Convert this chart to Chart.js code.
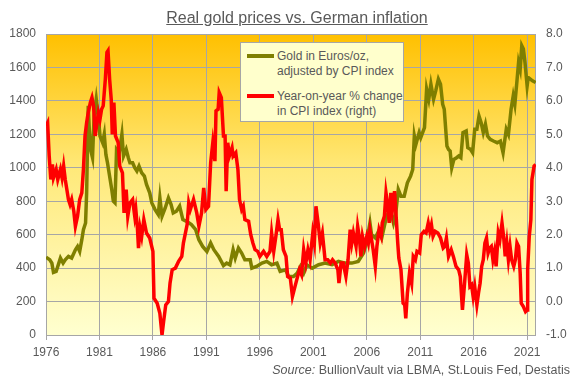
<!DOCTYPE html>
<html>
<head>
<meta charset="utf-8">
<script src="https://cdn.jsdelivr.net/npm/chart.js@4.4.1/dist/chart.umd.min.js"></script>
<style>
  body { margin: 0; background: #fff; font-family: "Liberation Sans", Arial, sans-serif; }
  #wrap { position: relative; width: 576px; height: 379px; overflow: hidden; }
  #chart { position: absolute; left: 0; top: 0; }
  #title { position: absolute; left: 0; width: 594px; top: 9px; text-align: center; font-size: 16px; color: #595959; }
  #title span { text-decoration: underline; }
  #legend { position: absolute; left: 240px; top: 42px; width: 164px; height: 80px; box-sizing: border-box;
            background: #FFFFCC; border: 1px solid #A6A6A6; font-size: 12px; color: #595959; line-height: 14.5px; }
  .leg-item { position: absolute; left: 36px; white-space: nowrap; }
  .leg-line { position: absolute; left: -30px; top: 5px; width: 27px; height: 4px; }
  #source { position: absolute; right: 6px; top: 363px; font-size: 12.5px; color: #595959; white-space: nowrap; }
</style>
</head>
<body>
<div id="wrap">
  <canvas id="chart" width="576" height="379"></canvas>
  <div id="title"><span>Real gold prices vs. German inflation</span></div>
  <div id="legend">
    <div class="leg-item" style="top:6px"><span class="leg-line" style="background:#7F7F00"></span>Gold in Euros/oz,<br>adjusted by CPI index</div>
    <div class="leg-item" style="top:46px"><span class="leg-line" style="background:#FF0000"></span>Year-on-year % change<br>in CPI index (right)</div>
  </div>
  <div id="source"><i>Source:</i> BullionVault via LBMA, St.Louis Fed, Destatis</div>
</div>
<script>
var xTicks = [1976, 1981, 1986, 1991, 1996, 2001, 2006, 2011, 2016, 2021];

var goldYears = [1976.0, 1976.35, 1976.55, 1976.7, 1976.95, 1977.2, 1977.35, 1977.6, 1977.8, 1978.1, 1978.4, 1978.75, 1978.95, 1979.15, 1979.35, 1979.5, 1979.7, 1979.8, 1979.95, 1980.05, 1980.2, 1980.35, 1980.5, 1980.7, 1980.85,
  1981.05, 1981.3, 1981.45, 1981.6, 1981.75, 1982.0, 1982.15, 1982.3, 1982.45, 1982.6, 1982.85, 1983.1, 1983.25, 1983.5, 1983.7, 1983.85, 1984.1, 1984.3, 1984.5, 1984.7, 1984.95,
  1985.2, 1985.4, 1985.7, 1985.9, 1986.2, 1986.5, 1986.65, 1986.85, 1987.15, 1987.45, 1987.7, 1987.9, 1988.2, 1988.5, 1988.8, 1989.15, 1989.6, 1990.0, 1990.3, 1990.65,
  1991.05, 1991.4, 1991.7, 1992.15, 1992.6, 1992.9, 1993.2, 1993.5, 1993.7, 1994.0, 1994.3, 1994.6, 1995.1, 1995.25, 1995.7, 1996.2, 1996.65, 1997.1, 1997.6, 1997.9,
  1998.4, 1998.7, 1999.15, 1999.5, 1999.8, 2000.1, 2000.4, 2000.9, 2001.5, 2002.1, 2002.75, 2003.35, 2004.0, 2004.6, 2005.2, 2005.7, 2006.0, 2006.3, 2006.45, 2006.8,
  2007.1, 2007.4, 2007.85, 2008.2, 2008.5, 2008.7, 2008.95, 2009.2, 2009.5, 2009.8, 2010.1, 2010.3, 2010.45, 2010.6, 2010.9, 2011.05, 2011.4, 2011.6, 2011.8, 2012.0,
  2012.25, 2012.45, 2012.7, 2012.9, 2013.1, 2013.25, 2013.5, 2013.65, 2013.8, 2013.95, 2014.15, 2014.4, 2014.6, 2014.8, 2015.0, 2015.3, 2015.45, 2015.7, 2015.9, 2016.1,
  2016.3, 2016.5, 2016.7, 2016.9, 2017.1, 2017.3, 2017.55, 2017.85, 2018.2, 2018.5, 2018.75, 2019.05, 2019.25, 2019.5, 2019.7, 2019.85, 2020.05, 2020.2, 2020.35, 2020.5,
  2020.65, 2020.8, 2021.0, 2021.1, 2021.3, 2021.5, 2021.8];
var goldValues = [465, 450, 430, 374, 380, 430, 460, 430, 450, 470, 460, 510, 530, 500, 570, 630, 670, 850, 1370, 1230, 1100, 1060, 1310, 1410, 1330,
  1190, 1150, 1200, 1080, 1030, 930, 870, 800, 790, 1110, 1090, 1200, 1070, 1110, 1060, 1030, 1030, 1000, 980, 1010, 970,
  950, 900, 850, 790, 750, 720, 820, 710, 760, 820, 780, 730, 740, 770, 690, 680, 660, 630, 570, 530,
  500, 550, 510, 470, 415, 430, 420, 510, 460, 520, 490, 450, 450, 400, 410, 430, 440, 420, 430, 380,
  390, 350, 350, 370, 410, 370, 420, 400, 420, 430, 420, 440, 430, 430, 440, 490, 560, 670, 600, 580,
  620, 580, 710, 750, 670, 720, 870, 830, 830, 910, 950, 990, 1190, 1140, 1210, 1180, 1240, 1470, 1410, 1500,
  1410, 1460, 1530, 1500, 1380, 1350, 1130, 1110, 1100, 1000, 1050, 1060, 1070, 1060, 1210, 1220, 1120, 1110, 1090, 1230,
  1230, 1310, 1270, 1210, 1260, 1190, 1170, 1160, 1150, 1160, 1090, 1230, 1200, 1350, 1430, 1380, 1520, 1630, 1590, 1730,
  1710, 1630, 1490, 1540, 1530, 1520, 1510];

var cpiYears = [1976.0, 1976.15, 1976.3, 1976.45, 1976.6, 1976.7, 1976.95, 1977.1, 1977.35, 1977.5, 1977.65, 1977.8, 1977.95, 1978.1, 1978.25, 1978.4, 1978.6, 1978.75, 1978.95, 1979.15, 1979.35, 1979.5, 1979.65, 1979.8, 1979.95,
  1980.15, 1980.3, 1980.45, 1980.6, 1980.75, 1980.9, 1981.05, 1981.2, 1981.35, 1981.55, 1981.7, 1981.8, 1981.95, 1982.1, 1982.2, 1982.35, 1982.5, 1982.75, 1982.9,
  1983.15, 1983.3, 1983.5, 1983.65, 1983.85, 1984.1, 1984.3, 1984.4, 1984.55, 1984.65, 1984.8, 1984.95, 1985.15, 1985.4, 1985.7, 1986.0, 1986.1, 1986.4, 1986.65, 1986.85,
  1987.0, 1987.2, 1987.45, 1987.6, 1987.8, 1988.1, 1988.4, 1988.7, 1988.85, 1989.2, 1989.35, 1989.5, 1989.8, 1990.1, 1990.3, 1990.55, 1990.75, 1990.95, 1991.2, 1991.4,
  1991.6, 1991.8, 1991.9, 1992.1, 1992.2, 1992.4, 1992.6, 1992.75, 1992.85, 1993.0, 1993.15, 1993.4, 1993.5, 1993.75, 1993.95, 1994.1, 1994.3, 1994.45, 1994.6, 1994.95,
  1995.15, 1995.35, 1995.55, 1995.8, 1996.0, 1996.35, 1996.65, 1996.95, 1997.1, 1997.3, 1997.5, 1997.7, 1997.85, 1998.0, 1998.2, 1998.45, 1998.6, 1998.85, 1999.05, 1999.25,
  1999.45, 1999.7, 1999.9, 2000.1, 2000.3, 2000.5, 2000.7, 2000.95, 2001.1, 2001.25, 2001.45, 2001.65, 2001.85, 2002.1, 2002.35, 2002.6, 2002.8, 2003.05, 2003.3, 2003.4,
  2003.6, 2003.8, 2004.05, 2004.25, 2004.45, 2004.6, 2004.75, 2005.0, 2005.15, 2005.3, 2005.45, 2005.6, 2005.8, 2006.0, 2006.15, 2006.3, 2006.6, 2006.8, 2006.95, 2007.15,
  2007.35, 2007.45, 2007.65, 2007.8, 2007.95, 2008.1, 2008.25, 2008.4, 2008.6, 2008.75, 2008.9, 2009.0, 2009.2, 2009.4, 2009.55, 2009.65, 2009.8, 2010.0, 2010.2, 2010.35,
  2010.55, 2010.7, 2010.95, 2011.1, 2011.35, 2011.55, 2011.75, 2011.9, 2012.05, 2012.2, 2012.4, 2012.65, 2012.9, 2013.15, 2013.3, 2013.45, 2013.65, 2013.9, 2014.1, 2014.35,
  2014.6, 2014.75, 2014.95, 2015.15, 2015.35, 2015.5, 2015.65, 2015.8, 2015.95, 2016.1, 2016.3, 2016.45, 2016.6, 2016.75, 2016.9, 2017.05, 2017.2, 2017.35, 2017.5, 2017.65,
  2017.8, 2017.95, 2018.1, 2018.3, 2018.45, 2018.65, 2018.8, 2018.95, 2019.1, 2019.25, 2019.4, 2019.55, 2019.75, 2019.9, 2020.05, 2020.2, 2020.35, 2020.45, 2020.65, 2020.85,
  2021.0, 2021.05, 2021.2, 2021.35, 2021.45, 2021.65, 2021.8];
var cpiValues = [5.25, 5.35, 4.35, 3.65, 4.1, 3.7, 3.95, 3.65, 3.95, 3.7, 4.05, 3.65, 3.35, 3.05, 2.9, 3.05, 2.7, 2.25, 2.55, 3.05, 3.25, 3.95, 4.95, 5.35, 5.65,
  5.95, 6.1, 5.85, 4.95, 5.3, 5.65, 5.45, 5.75, 5.85, 6.65, 7.45, 7.5, 6.65, 6.05, 5.0, 5.95, 4.95, 4.75, 4.05,
  3.85, 2.65, 3.35, 2.55, 2.95, 3.05, 2.55, 2.75, 2.2, 1.6, 2.2, 1.95, 2.45, 2.05, 1.9, 1.5, 0.1, -0.05, -0.35, -1.0,
  -0.6, -0.1, 0.0, 0.55, 0.95, 1.0, 1.2, 1.35, 1.75, 2.3, 2.95, 2.75, 3.05, 2.65, 2.25, 2.65, 3.4, 2.75, 2.85, 4.15,
  4.75, 4.2, 5.7, 5.75, 6.25, 6.1, 4.95, 4.95, 3.3, 4.75, 4.35, 4.6, 4.35, 4.45, 3.95, 3.05, 2.75, 2.85, 2.45, 2.4,
  2.0, 1.75, 1.55, 1.5, 1.35, 1.5, 1.35, 1.5, 2.05, 1.5, 1.95, 2.45, 2.15, 2.15, 1.55, 1.35, 0.75, 0.7, 0.15, 0.4,
  0.65, 0.95, 0.8, 1.55, 1.15, 1.55, 1.25, 2.05, 1.75, 2.85, 2.35, 1.75, 2.05, 1.25, 1.25, 1.15, 1.25, 1.15, 0.95, 0.55,
  1.15, 1.15, 0.75, 1.25, 2.15, 1.75, 2.05, 1.65, 2.25, 1.95, 1.35, 1.95, 1.65, 1.95, 1.75, 2.15, 1.55, 1.05, 1.65, 2.15,
  1.95, 2.35, 2.55, 3.25, 2.9, 2.35, 3.25, 2.75, 3.3, 2.55, 1.75, 1.3, 0.95, -0.05, -0.1, -0.5, 0.25, 0.85, 0.55, 1.35,
  1.25, 1.5, 1.45, 2.0, 2.1, 2.05, 2.35, 2.1, 2.3, 1.95, 2.1, 2.05, 1.9, 1.6, 1.65, 1.9, 1.35, 1.55, 1.35, 1.05,
  0.95, 0.75, -0.25, 0.55, 1.4, 1.15, 0.45, 0.5, 0.15, 0.45, -0.1, 0.25, 0.55, 1.05, 1.25, 1.75, 1.9, 1.45, 1.6, 1.65,
  1.25, 1.5, 1.05, 2.05, 1.85, 2.35, 1.95, 1.35, 1.75, 1.25, 1.65, 1.25, 1.05, 1.25, 1.75, 1.65, 0.85, -0.05, -0.15, -0.3,
  -0.25, 0.95, 1.95, 2.45, 3.65, 4.05, 4.1];

function toPoints(xs, ys) {
  return xs.map(function(x, i) { return { x: x, y: ys[i] }; });
}

var gridColor = '#A6A6A6';
var textColor = '#595959';
var tickFont = { family: 'Liberation Sans', size: 12 };

var plotBg = {
  id: 'plotBg',
  beforeDraw: function(chart) {
    var a = chart.chartArea, ctx = chart.ctx;
    var g = ctx.createLinearGradient(0, a.top, 0, a.bottom);
    g.addColorStop(0, '#FFC000');
    g.addColorStop(0.45, '#FFE97A');
    g.addColorStop(1, '#FFFFD0');
    ctx.save();
    ctx.fillStyle = g;
    ctx.fillRect(a.left, a.top, a.right - a.left, a.bottom - a.top);
    ctx.restore();
  },
  beforeDatasetsDraw: function(chart) {
    var a = chart.chartArea, ctx = chart.ctx;
    ctx.save();
    ctx.strokeStyle = gridColor;
    ctx.lineWidth = 1;
    ctx.strokeRect(a.left + 0.5, a.top + 0.5, a.right - a.left - 1, a.bottom - a.top);
    ctx.restore();
  }
};

new Chart(document.getElementById('chart'), {
  type: 'line',
  data: {
    datasets: [
      { label: 'Year-on-year % change in CPI index (right)', data: toPoints(cpiYears, cpiValues), yAxisID: 'y1',
        borderColor: '#FF0000', borderWidth: 3.5, pointRadius: 0, tension: 0, order: 0 },
      { label: 'Gold in Euros/oz, adjusted by CPI index', data: toPoints(goldYears, goldValues), yAxisID: 'y',
        borderColor: '#7F7F00', borderWidth: 3.5, pointRadius: 0, tension: 0, order: 1 }
    ]
  },
  options: {
    responsive: false, animation: false, devicePixelRatio: 1,
    layout: { padding: { top: 34, left: 0, right: 0, bottom: 0 } },
    plugins: { legend: { display: false }, tooltip: { enabled: false } },
    scales: {
      x: {
        type: 'linear', min: 1976, max: 2021.83,
        afterBuildTicks: function(s) { s.ticks = xTicks.map(function(v) { return { value: v }; }); },
        afterFit: function(s) { s.height = 44; },
        grid: { color: gridColor, tickLength: 5, drawTicks: true },
        border: { display: false },
        ticks: { color: textColor, font: tickFont, padding: 5, maxRotation: 0, autoSkip: false,
                 callback: function(v) { return String(v); } }
      },
      y: {
        position: 'left', min: 0, max: 1800,
        afterFit: function(s) { s.width = 46; },
        grid: { color: gridColor, drawTicks: false },
        border: { display: false },
        ticks: { stepSize: 200, color: textColor, font: tickFont, padding: 10,
                 callback: function(v) { return String(v); } }
      },
      y1: {
        position: 'right', min: -1, max: 8,
        afterFit: function(s) { s.width = 40; },
        grid: { display: false, drawTicks: false },
        border: { display: false },
        ticks: { stepSize: 1, color: textColor, font: tickFont, padding: 10,
                 callback: function(v) { return v.toFixed(1); } }
      }
    }
  },
  plugins: [plotBg]
});
</script>
</body>
</html>
